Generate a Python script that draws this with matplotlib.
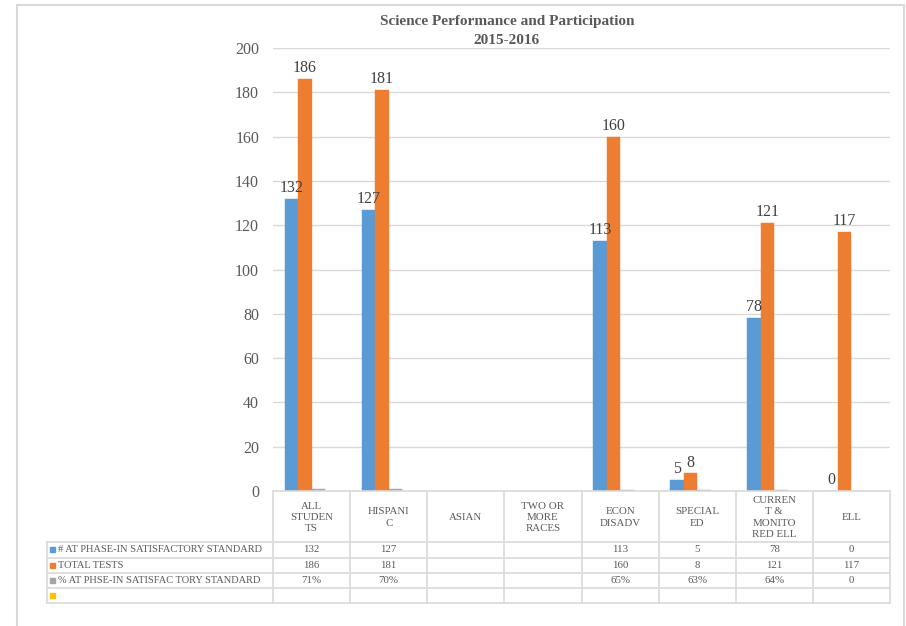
import numpy as np
import matplotlib
matplotlib.use("Agg")
import matplotlib.pyplot as plt
from matplotlib.lines import Line2D
from matplotlib.patches import Rectangle

W, H = 906, 626

categories = ["ALL\nSTUDEN\nTS", "HISPANI\nC", "ASIAN", "TWO OR\nMORE\nRACES",
              "ECON\nDISADV", "SPECIAL\nED", "CURREN\nT &\nMONITO\nRED ELL", "ELL"]
series_names = ["# AT PHASE-IN SATISFACTORY STANDARD", "TOTAL TESTS",
                "% AT PHSE-IN SATISFAC TORY STANDARD", ""]
satisfactory = [132, 127, np.nan, np.nan, 113, 5, 78, 0]
total_tests = [186, 181, np.nan, np.nan, 160, 8, 121, 117]
pct_satisfactory = [0.71, 0.70, np.nan, np.nan, 0.65, 0.63, 0.64, 0]
pct_labels = ["71%", "70%", "", "", "65%", "63%", "64%", "0"]
empty_series = [np.nan] * 8
colors = ["#5B9BD5", "#ED7D31", "#A5A5A5", "#FFC000"]
yticks = list(range(0, 201, 20))

SERIF = "Liberation Serif"
TXT = "#595959"
GRID = "#D9D9D9"


def fx(px):
    return px / W


def fy(py):
    return 1 - py / H


fig = plt.figure(figsize=(W / 100, H / 100), dpi=100)

# outer chart frame
fig.add_artist(Rectangle((fx(17), fy(660)), fx(904) - fx(17), fy(5) - fy(660),
                         transform=fig.transFigure, fill=False,
                         edgecolor="#D9D9D9", linewidth=1.5))

ax_l, ax_r, ax_t, ax_b = 273, 890, 48, 491
ax = fig.add_axes([fx(ax_l), fy(ax_b), fx(ax_r) - fx(ax_l), fy(ax_t) - fy(ax_b)])

n = len(categories)
x = np.arange(n)
bw = 0.175
all_series = [satisfactory, total_tests, pct_satisfactory, empty_series]
for i, (vals, c) in enumerate(zip(all_series, colors)):
    pos = x + (i - 1.5) * bw
    ax.bar(pos, vals, width=bw, color=c, edgecolor=c, linewidth=0.3, zorder=3)
    if i < 2:
        for p, v in zip(pos, vals):
            if not np.isnan(v):
                ax.annotate(f"{v:g}", (p, v), xytext=(0, 2), textcoords="offset points",
                            ha="center", va="bottom", fontsize=11.5,
                            family=SERIF, color="#404040", zorder=10)

ax.set_xlim(-0.5, n - 0.5)
ax.set_ylim(0, 200)
ax.set_yticks(yticks)
ax.set_xticks([])
ax.yaxis.grid(True, color=GRID, linewidth=1, zorder=0)
for s in ax.spines.values():
    s.set_visible(False)
ax.tick_params(axis="y", length=0, pad=10, labelsize=11.5, labelcolor=TXT)
for lbl in ax.get_yticklabels():
    lbl.set_family(SERIF)

# title
fig.text(fx(507), fy(22), "Science Performance and Participation",
         ha="center", va="center", fontsize=11, fontweight="bold",
         family=SERIF, color=TXT)
fig.text(fx(507), fy(40), "2015-2016",
         ha="center", va="center", fontsize=11, fontweight="bold",
         family=SERIF, color=TXT)

# data table below the plot
col_w = (ax_r - ax_l) / n
col_x = [ax_l + k * col_w for k in range(n + 1)]
tbl_left = 47
hdr_top, hdr_bot = ax_b, 542
row_y = [542, 557.5, 572.5, 588, 603]


def hline(x0, x1, y):
    fig.add_artist(Line2D([fx(x0), fx(x1)], [fy(y), fy(y)], transform=fig.transFigure,
                          color=GRID, linewidth=1.2))


def vline(xp, y0, y1):
    fig.add_artist(Line2D([fx(xp), fx(xp)], [fy(y0), fy(y1)], transform=fig.transFigure,
                          color=GRID, linewidth=1.2))


hline(ax_l, ax_r, hdr_top)
for y in row_y:
    hline(tbl_left, ax_r, y)
for xp in col_x:
    vline(xp, hdr_top, row_y[-1])
vline(tbl_left, row_y[0], row_y[-1])

for k, cat in enumerate(categories):
    fig.text(fx(col_x[k] + col_w / 2), fy((hdr_top + hdr_bot) / 2 + 1), cat,
             ha="center", va="center", fontsize=7.8, family=SERIF, color=TXT,
             linespacing=1.3)

table_rows = [
    [f"{v:g}" if not np.isnan(v) else "" for v in satisfactory],
    [f"{v:g}" if not np.isnan(v) else "" for v in total_tests],
    pct_labels,
    ["" for _ in categories],
]
for r, (name, c, cells) in enumerate(zip(series_names, colors, table_rows)):
    yc = (row_y[r] + row_y[r + 1]) / 2
    fig.add_artist(Rectangle((fx(50), fy(yc + 2.5)), fx(5), fy(0) - fy(5),
                             transform=fig.transFigure, color=c))
    fig.text(fx(58), fy(yc), name, ha="left", va="center", fontsize=7.5,
             family=SERIF, color=TXT)
    for k, s in enumerate(cells):
        fig.text(fx(col_x[k] + col_w / 2), fy(yc), s, ha="center", va="center",
                 fontsize=7.8, family=SERIF, color=TXT)

fig.savefig("out.png", dpi=100, facecolor="white")
